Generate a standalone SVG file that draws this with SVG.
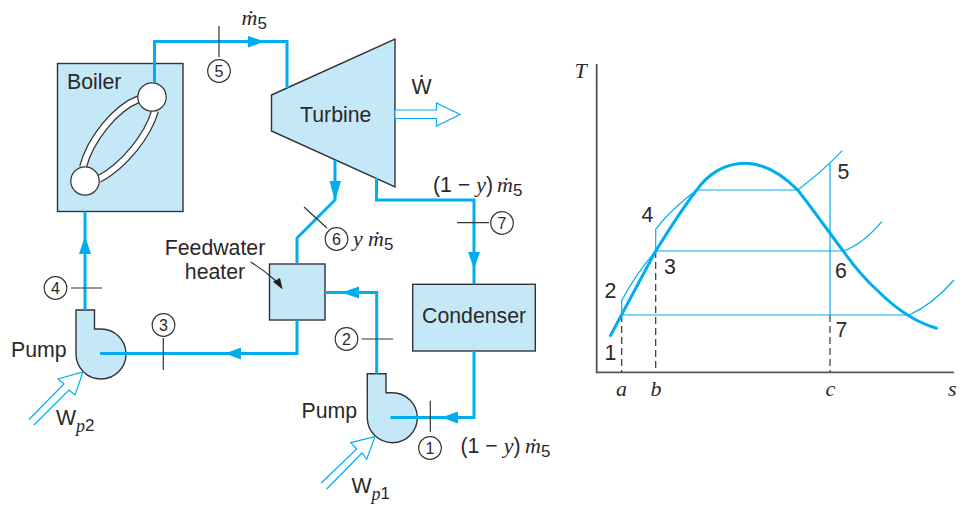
<svg xmlns="http://www.w3.org/2000/svg" width="962" height="506" viewBox="0 0 962 506">
<style>
.n{fill:#c5e8f9;stroke:#333;stroke-width:1.4}
.p{fill:none;stroke:#00aeef;stroke-width:3}
.h{fill:#00aeef;stroke:none}
.o{fill:#fff;stroke:#00aeef;stroke-width:1.2}
.t{fill:none;stroke:#333;stroke-width:1.2}
.c{fill:#fff;stroke:#333;stroke-width:1.2}
.th{fill:none;stroke:#00aeef;stroke-width:1.2}
.dome{fill:none;stroke:#00aeef;stroke-width:3;stroke-linecap:round}
.d{fill:none;stroke:#333;stroke-width:1.2;stroke-dasharray:7 4}
.ax{fill:none;stroke:#555;stroke-width:1.8}
text{font-family:"Liberation Sans",Arial,sans-serif;font-size:21.3px;fill:#2b2829}
.num{font-size:16px;text-anchor:middle}
.it{font-family:"Liberation Serif","Times New Roman",serif;font-style:italic;font-size:22px}
.sub{font-size:17px}
.subi{font-family:"Liberation Serif","Times New Roman",serif;font-style:italic;font-size:18px}
</style>
<g id="boiler">
<rect class="n" x="57.5" y="63.5" width="125.5" height="148"/>
<text x="67" y="89">Boiler</text>
<path d="M139,99C115,108 90,140 83,167M155,111C148,135 125,165 99,179" fill="none" stroke="#333" stroke-width="8"/>
<path d="M139,99C115,108 90,140 83,167M155,111C148,135 125,165 99,179" fill="none" stroke="#fff" stroke-width="5.5"/>
<circle class="c" cx="152" cy="97" r="14.2"/>
<circle class="c" cx="85" cy="181" r="14.2"/>
</g>
<g id="turbine">
<polygon class="n" points="271.5,95 395,39 395,187 271.5,131"/>
<text x="300" y="122">Turbine</text>
</g>
<g id="feedwater-heater">
<rect class="n" x="269.5" y="264" width="55.5" height="56"/>
<text x="215" y="255" text-anchor="middle">Feedwater</text>
<text x="215" y="279" text-anchor="middle">heater</text>
<path d="M250.5,262Q264,270 276,281" class="t"/>
<polygon points="282.7,289.5 273,281.7 280,278" fill="#231f20"/>
</g>
<g id="condenser">
<rect class="n" x="412.7" y="284.3" width="122.6" height="66.7"/>
<text x="422" y="322.5">Condenser</text>
</g>
<g id="pump2">
<path class="n" d="M76,310H94.5V329H100.5A25,25 0 1 1 76,354Z"/>
<text x="11" y="357">Pump</text>
</g>
<g id="pump1">
<path class="n" d="M367.3,373.7H386V392.7H392A25,25 0 1 1 367.3,418Z"/>
<text x="301.5" y="418">Pump</text>
</g>
<g id="connectors">
<path class="p" d="M154.5,83V41.5H287V88"/>
<polygon class="h" points="248,36 265,41.5 248,47.5"/>
<path class="p" d="M335,160V200L297,238V264"/>
<polygon class="h" points="329.5,181 341,181 335,201"/>
<path class="p" d="M376.5,178V200H474V284.3"/>
<polygon class="h" points="468,252 480,252 474,269"/>
<path class="p" d="M297,320V353.5H100"/>
<polygon class="h" points="241,347.5 241,359.5 225,353.5"/>
<path class="p" d="M85,310V211.5"/>
<polygon class="h" points="79,254 91,254 85,236"/>
<path class="p" d="M376.7,373.7V292.4H325"/>
<polygon class="h" points="359,286.4 359,298.4 341.5,292.4"/>
<path class="p" d="M474,351V417.5H390.5"/>
<polygon class="h" points="458,411.5 458,423.5 441.5,417.5"/>
<polygon class="o" points="395,110 436.5,110 436.5,103 460,114.5 436.5,126 436.5,118.5 395,118.5"/>
<path class="o" d="M29,419.5L64,384L58,379L83,372L75,395L69,390L34,425" fill="#fff"/>
<path class="o" d="M321,483.3L356.7,449L350.7,442.7L375,436.7L366.7,459.3L362,453L326.7,489" fill="#fff"/>
<path class="t" d="M219,26V57M304,207L327,228M457,222.7H489M163.3,338V370M71,288H102M361.5,339H393M430.3,400.7V432"/>
</g>
<g id="state-1"><circle class="c" cx="430" cy="448" r="11.3"/><text class="num" x="430" y="453.6">1</text></g>
<g id="state-2"><circle class="c" cx="346.5" cy="339" r="11.3"/><text class="num" x="346.5" y="344.6">2</text></g>
<g id="state-3"><circle class="c" cx="163.5" cy="325" r="11.3"/><text class="num" x="163.5" y="330.6">3</text></g>
<g id="state-4"><circle class="c" cx="55.5" cy="288" r="11.3"/><text class="num" x="55.5" y="293.6">4</text></g>
<g id="state-5"><circle class="c" cx="219" cy="71" r="11.3"/><text class="num" x="219" y="76.6">5</text></g>
<g id="state-6"><circle class="c" cx="336.5" cy="239" r="11.3"/><text class="num" x="336.5" y="244.6">6</text></g>
<g id="state-7"><circle class="c" cx="502" cy="223" r="11.3"/><text class="num" x="502" y="228.6">7</text></g>
<g id="labels">
<text x="241.5" y="25"><tspan class="it">ṁ</tspan><tspan class="sub" dy="4">5</tspan></text>
<text x="411.5" y="94">Ẇ</text>
<text x="353" y="246"><tspan class="it">y</tspan></text>
<text x="368" y="246"><tspan class="it">ṁ</tspan><tspan class="sub" dy="4">5</tspan></text>
<text x="433" y="191.5">(1 − <tspan class="it">y</tspan>)</text>
<text x="497" y="191.5"><tspan class="it">ṁ</tspan><tspan class="sub" dy="4">5</tspan></text>
<text x="460.5" y="453">(1 − <tspan class="it">y</tspan>)</text>
<text x="525" y="453"><tspan class="it">ṁ</tspan><tspan class="sub" dy="4">5</tspan></text>
<text x="56" y="425">W<tspan class="subi" dy="7">p</tspan><tspan class="sub" dy="-1">2</tspan></text>
<text x="351.5" y="493">W<tspan class="subi" dy="7">p</tspan><tspan class="sub" dy="-1">1</tspan></text>
</g>
<g id="ts-diagram">
<path class="ax" d="M596.7,64V372.3H954"/>
<path class="d" d="M621.7,315V372M655.7,251V372M830,315V372"/>
<path class="th" d="M621.7,315H909M655.7,251H843.3M696.7,190H797.7M830,164V315"/>
<path class="th" d="M797.7,190Q822,172 842.3,150.7M843.3,251Q862,245 881.7,221.7M909,315Q932,305 954,280"/>
<path class="th" d="M621.7,315V300.7Q635,275 655.7,251V229.3Q670,210 696.7,190"/>
<path class="dome" d="M610.5,335.5L655.7,251C670,228 685,205 696.7,190C708,174 725,163.3 745,163.3C765,163.3 782,174 797.7,190C812,208 828,231 843.3,251C855,268 868,282 878,291C895,308 915,322 936.5,328.3"/>
<text x="837.5" y="179">5</text>
<text x="641.5" y="221.7">4</text>
<text x="664" y="274">3</text>
<text x="835" y="278">6</text>
<text x="604.5" y="297.7">2</text>
<text x="835.5" y="336.7">7</text>
<text x="604.5" y="360">1</text>
<text class="it" x="616" y="395.5">a</text>
<text class="it" x="650.5" y="395.5">b</text>
<text class="it" x="825.5" y="395.5">c</text>
<text class="it" x="948" y="395.5">s</text>
<text class="it" x="574.5" y="77.5">T</text>
</g>
</svg>
